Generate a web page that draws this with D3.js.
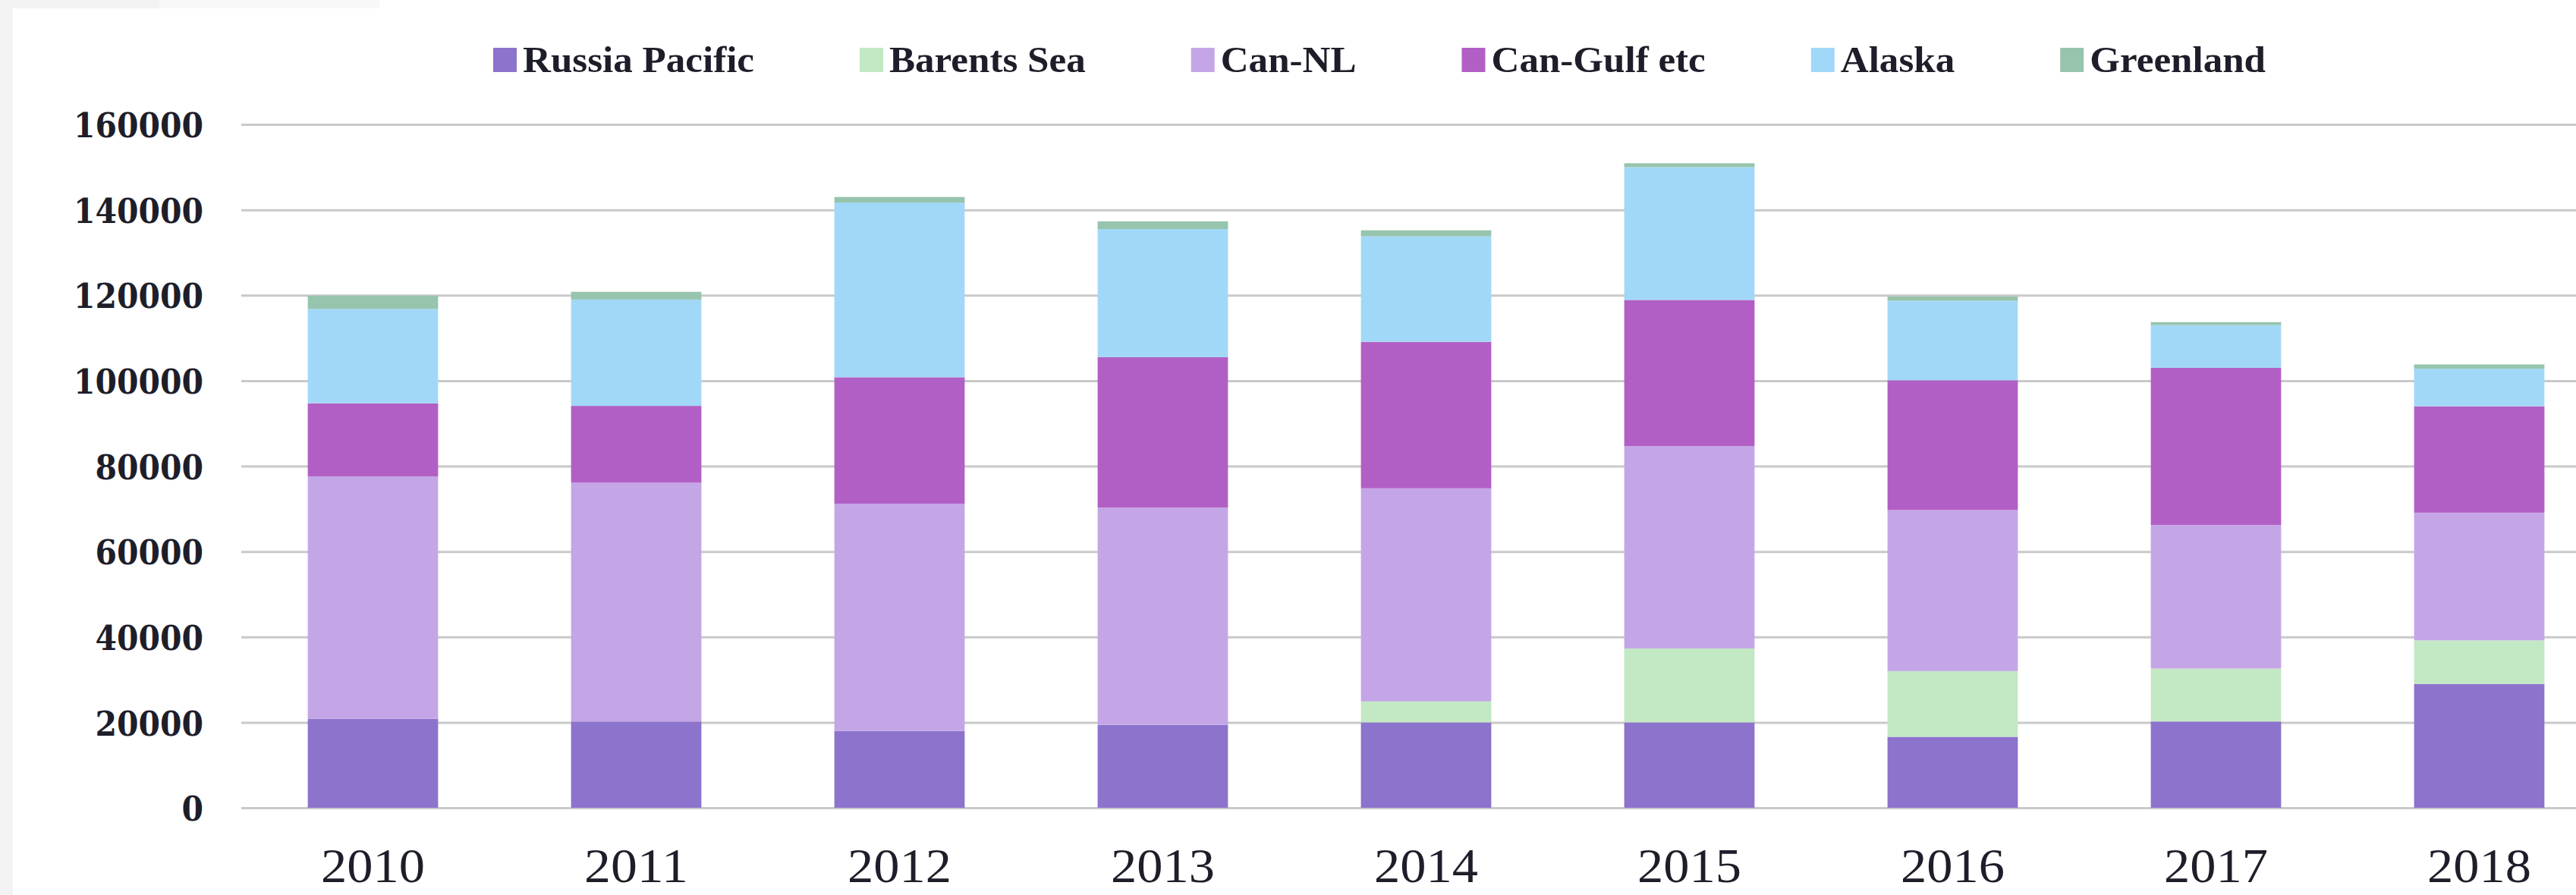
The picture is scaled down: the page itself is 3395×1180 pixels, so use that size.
<!DOCTYPE html>
<html><head><meta charset="utf-8">
<script src="https://cdn.jsdelivr.net/npm/d3@7"></script>
<style>html,body{margin:0;padding:0;background:#fff;} svg{display:block}</style>
</head><body><svg id="chart" width="3395" height="1180"></svg>
<script>
// ---------- data ----------
const years = ["2010","2011","2012","2013","2014","2015","2016","2017","2018"];
const seriesNames = ["Russia Pacific","Barents Sea","Can-NL","Can-Gulf etc","Alaska","Greenland"];
const russiaPacific = [20800, 20200, 18000, 19400, 20000, 20000, 16600, 20200, 29000];
const barentsSea    = [0, 0, 0, 0, 4900, 17300, 15400, 12400, 10200];
const canNL         = [56800, 55900, 53200, 50900, 49900, 47400, 37700, 33600, 29900];
const canGulf       = [17100, 18000, 29600, 35200, 34300, 34200, 30400, 36800, 24900];
const alaska        = [22100, 24900, 40900, 30000, 24700, 31100, 18600, 10000, 8800];
const greenland     = [3100, 1800, 1300, 1800, 1400, 900, 1000, 700, 1000];
const yTicks = [0, 20000, 40000, 60000, 80000, 100000, 120000, 140000, 160000];
const seriesColors = ["#8c73cc","#c3e8c4","#c4a6e6","#b25fc5","#a2d8f7","#96c4ac"];

const seriesValues = [russiaPacific, barentsSea, canNL, canGulf, alaska, greenland];
const table = years.map((yr, i) => {
  const row = {year: yr};
  seriesNames.forEach((s, k) => row[s] = seriesValues[k][i]);
  return row;
});

// ---------- layout ----------
const W = 3395, H = 1180;
const left = 318, step = 347;
const svg = d3.select("#chart");
svg.append("rect").attr("width", W).attr("height", H).attr("fill", "#fff");
svg.append("rect").attr("x", 0).attr("y", 0).attr("width", 500).attr("height", 11).attr("fill", "#f8f8f8");
svg.append("rect").attr("x", 0).attr("y", 0).attr("width", 17).attr("height", H).attr("fill", "#f3f3f3");
svg.append("rect").attr("x", 0).attr("y", 0).attr("width", 210).attr("height", 11).attr("fill", "#f3f3f3");

const x = d3.scaleBand().domain(years).range([left, left + step * years.length])
  .paddingInner(0.505).paddingOuter(0.2525);
const y = d3.scaleLinear().domain([0, 160000]).range([1065, 164]);
const color = d3.scaleOrdinal().domain(seriesNames).range(seriesColors);

// y axis + gridlines
const yAxisG = svg.append("g").attr("transform", `translate(${left},0)`)
  .call(d3.axisLeft(y).tickValues(yTicks).tickSize(-(W - left)).tickPadding(50).tickFormat(d3.format("d")));
yAxisG.select(".domain").remove();
yAxisG.selectAll(".tick line").attr("stroke", "#c9c9c9").attr("stroke-width", 3);
yAxisG.selectAll(".tick text")
  .attr("font-family", "'DejaVu Serif', serif").attr("font-weight", "bold")
  .attr("font-size", 45).attr("fill", "#1e1e2a").attr("dy", "0.37em");
(function(){
  const nodes = yAxisG.selectAll(".tick text").nodes();
  const ref = nodes.find(n => n.textContent === "160000");
  const k = 171 / ref.getComputedTextLength();
  nodes.forEach(n => {
    const w = n.getComputedTextLength();
    d3.select(n).attr("textLength", w * k).attr("lengthAdjust", "spacingAndGlyphs");
  });
})();

// stacked bars
const stacked = d3.stack().keys(seriesNames)(table);
svg.append("g").selectAll("g").data(stacked).join("g")
  .attr("fill", d => color(d.key))
  .selectAll("rect").data(d => d).join("rect")
  .attr("x", d => x(d.data.year))
  .attr("width", x.bandwidth())
  .attr("y", d => y(d[1]))
  .attr("height", d => y(d[0]) - y(d[1]));

// x axis
const xAxisG = svg.append("g").attr("transform", `translate(0,${y(0)})`)
  .call(d3.axisBottom(x).tickSize(0));
xAxisG.select(".domain").remove();
xAxisG.selectAll(".tick text")
  .attr("font-family", "'Liberation Serif', serif")
  .attr("font-size", 64).attr("fill", "#1e1e2a")
  .attr("y", 98).attr("dy", 0);
xAxisG.selectAll(".tick text").each(function(){
  const w = this.getComputedTextLength();
  d3.select(this).attr("textLength", w * 137 / w).attr("lengthAdjust", "spacingAndGlyphs");
});

// legend
const legend = svg.append("g");
const items = legend.selectAll("g").data(seriesNames).join("g");
items.append("rect").attr("width", 31).attr("height", 32).attr("y", 63).attr("fill", d => color(d));
const texts = items.append("text").text(d => d)
  .attr("x", 39).attr("y", 95)
  .attr("font-family", "'Liberation Serif', serif").attr("font-weight", "bold")
  .attr("font-size", 48).attr("fill", "#1e1e2a");
const tw = texts.nodes().map(n => n.getComputedTextLength());
const legendTextTotal = 1407;
const kk = legendTextTotal / d3.sum(tw);
let cx = 650;
items.each(function(d, i) {
  d3.select(this).attr("transform", `translate(${cx},0)`);
  d3.select(this).select("text").attr("textLength", tw[i] * kk).attr("lengthAdjust", "spacingAndGlyphs");
  cx += 39 + tw[i] * kk + 139;
});
</script></body></html>
